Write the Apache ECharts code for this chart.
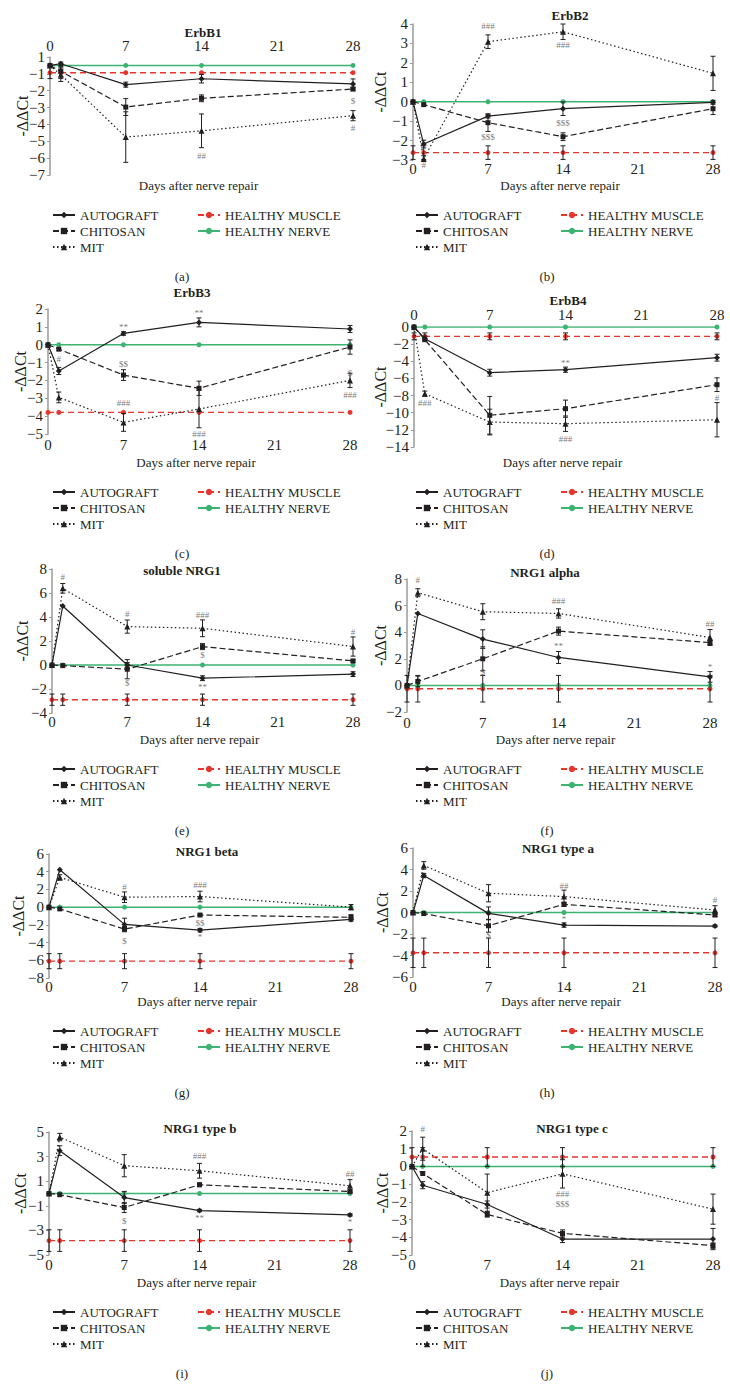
<!DOCTYPE html>
<html><head><meta charset="utf-8">
<script src="https://cdn.jsdelivr.net/npm/echarts@6/dist/echarts.min.js"></script>
<style>html,body{margin:0;padding:0;background:#fff}#c{width:730px;height:1394px}</style>
</head><body><div id="c"></div>
<script>
const DAYS = [0, 1, 7, 14, 28];
const XTICKS = ['0', '7', '14', '21', '28'];

// (a) ErbB1
const A_AUTO = [-0.5, -0.4, -1.64, -1.29, -1.6],  A_AUTO_E = [0, 0.1, 0.15, 0.25, 0.3];
const A_CHIT = [-0.5, -0.85, -2.97, -2.45, -1.9], A_CHIT_E = [0, 0, 0.5, 0.2, 0.1];
const A_MIT  = [-0.5, -1.05, -4.75, -4.38, -3.48], A_MIT_E = [0, 0.4, 1.5, 1.0, 0.3];
const A_MUSC = [-0.93, -0.93, -0.93, -0.93, -0.93], A_MUSC_E = [0.35, 0.35, 0, 0, 0];
const A_NERV = [-0.5, -0.5, -0.5, -0.5, -0.5];
const A_NOTE = [[14, -5.86, '##'], [28, -2.63, '$'], [28, -4.22, '#']];
const A_YT = ['−7', '−6', '−5', '−4', '−3', '−2', '−1', '1'];

// (b) ErbB2
const B_AUTO = [0, -2.18, -0.74, -0.36, -0.03], B_AUTO_E = [0, 0.2, 0.1, 0.35, 0.1];
const B_CHIT = [0, -0.15, -1.08, -1.8, -0.36], B_CHIT_E = [0, 0, 0.45, 0.2, 0.3];
const B_MIT  = [0, -2.93, 3.09, 3.6, 1.46],    B_MIT_E  = [0, 0.15, 0.35, 0.4, 0.88];
const B_MUSC = [-2.62, -2.62, -2.62, -2.62, -2.62], B_MUSC_E = [0.35, 0.35, 0.35, 0.35, 0.35];
const B_NERV = [0, 0, 0, 0, 0];
const B_NOTE = [[7, 3.9, '###'], [14, 2.92, '###'], [7, -1.84, '$$$'], [14, -1.07, '$$$'], [1, -3.26, '#']];
const B_YT = ['−3', '−2', '−1', '0', '1', '2', '3', '4'];

// (c) ErbB3
const C_AUTO = [0, -1.47, 0.63, 1.25, 0.88],  C_AUTO_E = [0, 0.2, 0.1, 0.25, 0.2];
const C_CHIT = [0, -0.25, -1.7, -2.44, -0.13], C_CHIT_E = [0, 0, 0.3, 0.4, 0.4];
const C_MIT  = [0, -2.95, -4.35, -3.6, -2.0],  C_MIT_E  = [0, 0.3, 0.5, 1.05, 0.4];
const C_MUSC = [-3.79, -3.79, -3.79, -3.79, -3.79], C_MUSC_E = [0, 0, 0, 0, 0];
const C_NERV = [0, 0, 0, 0, 0];
const C_NOTE = [[1, -0.8, '#'], [7, 0.97, '**'], [14, 1.76, '**'], [7, -1.08, '$$'], [7, -3.28, '###'], [14, -5.0, '###'], [28, -1.6, '$'], [28, -2.8, '###']];
const C_YT = ['−5', '−4', '−3', '−2', '−1', '0', '1', '2'];

// (d) ErbB4
const D_AUTO = [0, -1.36, -5.33, -4.98, -3.58],   D_AUTO_E = [0, 0.3, 0.4, 0.3, 0.4];
const D_CHIT = [0, -1.48, -10.3, -9.53, -6.73],   D_CHIT_E = [0, 0, 2.2, 1.0, 0.8];
const D_MIT  = [0, -7.78, -11.09, -11.28, -10.82], D_MIT_E = [0, 0.3, 1.5, 0.9, 2.0];
const D_MUSC = [-1.09, -1.09, -1.09, -1.09, -1.09], D_MUSC_E = [0.4, 0.4, 0.4, 0.4, 0.4];
const D_NERV = [0, 0, 0, 0, 0];
const D_NOTE = [[1, -8.83, '###'], [14, -4.16, '**'], [14, -13.1, '###'], [28, -8.3, '#']];
const D_YT = ['−14', '−12', '−10', '−8', '−6', '−4', '−2', '0'];

// (e) soluble NRG1
const E_AUTO = [0, 4.92, 0, -1.1, -0.76],      E_AUTO_E = [0, 0, 0.2, 0.2, 0.2];
const E_CHIT = [0, -0.05, -0.35, 1.53, 0.34],  E_CHIT_E = [0, 0, 0.8, 0.25, 0.1];
const E_MIT  = [0, 6.39, 3.2, 3.06, 1.54],     E_MIT_E  = [0, 0.4, 0.55, 0.7, 0.8];
const E_MUSC = [-2.89, -2.89, -2.89, -2.89, -2.89], E_MUSC_E = [0.47, 0.47, 0.47, 0.47, 0.47];
const E_NERV = [0, 0, 0, 0, 0];
const E_NOTE = [[1, 7.36, '#'], [7, 4.23, '#'], [14, 4.17, '###'], [28, 2.73, '#'], [7, -1.5, '$'], [14, 0.85, '$'], [14, -1.86, '**']];
const E_YT = ['−4', '−2', '0', '2', '4', '6', '8'];

// (f) NRG1 alpha
const F_AUTO = [0, 5.41, 3.48, 2.1, 0.64],  F_AUTO_E = [0, 0, 0.7, 0.45, 0.4];
const F_CHIT = [0, 0.3, 2.0, 4.08, 3.22],   F_CHIT_E = [0, 0.4, 0.9, 0.3, 0.15];
const F_MIT  = [0, 6.97, 5.54, 5.41, 3.6],  F_MIT_E  = [0, 0.3, 0.6, 0.35, 0.6];
const F_MUSC = [-0.25, -0.25, -0.25, -0.25, -0.25], F_MUSC_E = [1.0, 1.0, 1.0, 1.0, 1.0];
const F_NERV = [0, 0, 0, 0, 0];
const F_NOTE = [[1, 7.92, '#'], [14, 6.34, '###'], [14, 2.97, '**'], [28, 4.58, '##'], [28, 1.39, '*'], [7, 2.77, '*'], [7, 1.0, '$']];
const F_YT = ['−2', '0', '2', '4', '6', '8'];

// (g) NRG1 beta
const G_AUTO = [0, 4.22, -1.95, -2.6, -1.39], G_AUTO_E = [0, 0, 0.7, 0.2, 0.2];
const G_CHIT = [0, -0.2, -2.48, -0.89, -1.15], G_CHIT_E = [0, 0, 0.3, 0.1, 0.3];
const G_MIT  = [0, 3.36, 1.12, 1.2, 0],        G_MIT_E  = [0, 0.3, 0.6, 0.6, 0.3];
const G_MUSC = [-6.1, -6.1, -6.1, -6.1, -6.1], G_MUSC_E = [0.85, 0.85, 0.85, 0.85, 0.85];
const G_NERV = [0, 0, 0, 0, 0];
const G_NOTE = [[7, 2.25, '#'], [14, 2.52, '###'], [7, -3.8, '$'], [14, -1.77, '$$'], [14, -3.42, '*']];
const G_YT = ['−8', '−6', '−4', '−2', '0', '2', '4', '6'];

// (h) NRG1 type a
const H_AUTO = [0, 3.44, -0.08, -1.17, -1.26], H_AUTO_E = [0, 0.2, 0.6, 0.2, 0.1];
const H_CHIT = [0, -0.1, -1.23, 0.76, -0.23],  H_CHIT_E = [0, 0, 0.6, 0.2, 0.15];
const H_MIT  = [0, 4.38, 1.79, 1.48, 0.23],    H_MIT_E  = [0, 0.35, 0.8, 0.6, 0.4];
const H_MUSC = [-3.75, -3.75, -3.75, -3.75, -3.75], H_MUSC_E = [1.37, 1.37, 1.37, 1.37, 1.37];
const H_NERV = [0, 0, 0, 0, 0];
const H_NOTE = [[14, 2.5, '##'], [28, 1.17, '#'], [14, -0.64, '*'], [7, -2.1, '$']];
const H_YT = ['−6', '−4', '−2', '0', '2', '4', '6'];

// (i) NRG1 type b
const I_AUTO = [0, 3.48, -0.33, -1.39, -1.74], I_AUTO_E = [0, 0.4, 0.5, 0.1, 0.1];
const I_CHIT = [0, -0.1, -1.14, 0.71, 0.16],   I_CHIT_E = [0, 0, 0.4, 0.15, 0.1];
const I_MIT  = [0, 4.59, 2.26, 1.85, 0.63],    I_MIT_E  = [0, 0.3, 0.9, 0.6, 0.5];
const I_MUSC = [-3.83, -3.83, -3.83, -3.83, -3.83], I_MUSC_E = [0.88, 0.88, 0.88, 0.88, 0.88];
const I_NERV = [0, 0, 0, 0, 0];
const I_NOTE = [[14, 3.02, '###'], [28, 1.6, '##'], [7, -2.2, '$'], [14, -1.96, '**'], [28, -2.28, '*']];
const I_YT = ['−5', '−3', '−1', '1', '3', '5'];

// (j) NRG1 type c
const J_AUTO = [0, -1.06, -2.15, -4.1, -4.1],  J_AUTO_E = [0, 0.2, 0.2, 0.2, 0.6];
const J_CHIT = [0, -0.4, -2.71, -3.78, -4.47], J_CHIT_E = [0, 0, 0.15, 0.2, 0.15];
const J_MIT  = [0, 1.0, -1.48, -0.42, -2.41],  J_MIT_E  = [0, 0.65, 1.05, 0.8, 0.85];
const J_MUSC = [0.53, 0.53, 0.53, 0.53, 0.53], J_MUSC_E = [0.53, 0.53, 0.53, 0.53, 0.53];
const J_NERV = [0, 0, 0, 0, 0];
const J_NOTE = [[1, 2.13, '#'], [14, -1.56, '###'], [14, -2.13, '$$$']];
const J_YT = ['−5', '−4', '−3', '−2', '−1', '0', '1', '2'];

const PANELS = [
  {title: 'ErbB1', letter: '(a)', auto: A_AUTO, autoE: A_AUTO_E, chit: A_CHIT, chitE: A_CHIT_E, mit: A_MIT, mitE: A_MIT_E, musc: A_MUSC, muscE: A_MUSC_E, nerv: A_NERV, notes: A_NOTE, yt: A_YT, ymin: -7, ymax: 0, yint: 1},
  {title: 'ErbB2', letter: '(b)', auto: B_AUTO, autoE: B_AUTO_E, chit: B_CHIT, chitE: B_CHIT_E, mit: B_MIT, mitE: B_MIT_E, musc: B_MUSC, muscE: B_MUSC_E, nerv: B_NERV, notes: B_NOTE, yt: B_YT, ymin: -3, ymax: 4, yint: 1},
  {title: 'ErbB3', letter: '(c)', auto: C_AUTO, autoE: C_AUTO_E, chit: C_CHIT, chitE: C_CHIT_E, mit: C_MIT, mitE: C_MIT_E, musc: C_MUSC, muscE: C_MUSC_E, nerv: C_NERV, notes: C_NOTE, yt: C_YT, ymin: -5, ymax: 2, yint: 1},
  {title: 'ErbB4', letter: '(d)', auto: D_AUTO, autoE: D_AUTO_E, chit: D_CHIT, chitE: D_CHIT_E, mit: D_MIT, mitE: D_MIT_E, musc: D_MUSC, muscE: D_MUSC_E, nerv: D_NERV, notes: D_NOTE, yt: D_YT, ymin: -14, ymax: 0, yint: 2},
  {title: 'soluble NRG1', letter: '(e)', auto: E_AUTO, autoE: E_AUTO_E, chit: E_CHIT, chitE: E_CHIT_E, mit: E_MIT, mitE: E_MIT_E, musc: E_MUSC, muscE: E_MUSC_E, nerv: E_NERV, notes: E_NOTE, yt: E_YT, ymin: -4, ymax: 8, yint: 2},
  {title: 'NRG1 alpha', letter: '(f)', auto: F_AUTO, autoE: F_AUTO_E, chit: F_CHIT, chitE: F_CHIT_E, mit: F_MIT, mitE: F_MIT_E, musc: F_MUSC, muscE: F_MUSC_E, nerv: F_NERV, notes: F_NOTE, yt: F_YT, ymin: -2, ymax: 8, yint: 2},
  {title: 'NRG1 beta', letter: '(g)', auto: G_AUTO, autoE: G_AUTO_E, chit: G_CHIT, chitE: G_CHIT_E, mit: G_MIT, mitE: G_MIT_E, musc: G_MUSC, muscE: G_MUSC_E, nerv: G_NERV, notes: G_NOTE, yt: G_YT, ymin: -8, ymax: 6, yint: 2},
  {title: 'NRG1 type a', letter: '(h)', auto: H_AUTO, autoE: H_AUTO_E, chit: H_CHIT, chitE: H_CHIT_E, mit: H_MIT, mitE: H_MIT_E, musc: H_MUSC, muscE: H_MUSC_E, nerv: H_NERV, notes: H_NOTE, yt: H_YT, ymin: -6, ymax: 6, yint: 2},
  {title: 'NRG1 type b', letter: '(i)', auto: I_AUTO, autoE: I_AUTO_E, chit: I_CHIT, chitE: I_CHIT_E, mit: I_MIT, mitE: I_MIT_E, musc: I_MUSC, muscE: I_MUSC_E, nerv: I_NERV, notes: I_NOTE, yt: I_YT, ymin: -5, ymax: 5, yint: 2},
  {title: 'NRG1 type c', letter: '(j)', auto: J_AUTO, autoE: J_AUTO_E, chit: J_CHIT, chitE: J_CHIT_E, mit: J_MIT, mitE: J_MIT_E, musc: J_MUSC, muscE: J_MUSC_E, nerv: J_NERV, notes: J_NOTE, yt: J_YT, ymin: -5, ymax: 2, yint: 1}
];

// layout (pixels)
const LAYOUT = [
  {left: 50,  top: 57,   w: 303, h: 118, xpos: 'top',    xm: 4,   tx: 203, ty: 32,   ng: 20, row: 0, col: 0},
  {left: 413, top: 24,   w: 300, h: 136, xpos: 'bottom', xm: 1,   tx: 570, ty: 15,   ng: 25, row: 0, col: 1},
  {left: 48,  top: 309,  w: 302, h: 125, xpos: 'bottom', xm: 3,   tx: 192, ty: 292,  ng: 20, row: 1, col: 0},
  {left: 414, top: 327,  w: 303, h: 120, xpos: 'top',    xm: 5,   tx: 568, ty: 300,  ng: 26, row: 1, col: 1},
  {left: 52,  top: 569,  w: 301, h: 144, xpos: 'bottom', xm: 1.5, tx: 182, ty: 570,  ng: 22, row: 2, col: 0},
  {left: 407, top: 579,  w: 303, h: 133, xpos: 'bottom', xm: 3,   tx: 545, ty: 572,  ng: 19, row: 2, col: 1},
  {left: 49,  top: 854,  w: 302, h: 124, xpos: 'bottom', xm: 1,   tx: 207, ty: 851,  ng: 23, row: 3, col: 0},
  {left: 413, top: 848,  w: 302, h: 129, xpos: 'bottom', xm: 2,   tx: 558, ty: 848,  ng: 23, row: 3, col: 1},
  {left: 49,  top: 1132, w: 301, h: 123, xpos: 'bottom', xm: 2.5, tx: 200, ty: 1128, ng: 21, row: 4, col: 0},
  {left: 412, top: 1131, w: 301, h: 124, xpos: 'bottom', xm: 2.5, tx: 572, ty: 1128, ng: 22, row: 4, col: 1}
];
const DAYS_Y = [185, 462, 739, 1001, 1282];

const FONT = 'Liberation Serif, serif';
const INK = '#231f20';
const RED = '#e8352e';
const GREEN = '#3cb371';

const chart = echarts.init(document.getElementById('c'), null, {renderer: 'svg', width: 730, height: 1394});

const grids = [], xAxes = [], yAxes = [], series = [], legends = [], graphics = [];

function pts(arr) { return DAYS.map((d, i) => [d, arr[i]]); }
function errs(vals, es) { return DAYS.map((d, i) => [d, vals[i], es[i]]).filter(r => r[2] > 0); }

function errorSeries(i, data, z) {
  return {
    type: 'custom', xAxisIndex: i, yAxisIndex: i, silent: true, z: z, data: data,
    renderItem: function (params, api) {
      const x = api.value(0), y = api.value(1), e = api.value(2);
      const p1 = api.coord([x, y + e]), p2 = api.coord([x, y - e]);
      const c = 2.5;
      const st = {stroke: INK, lineWidth: 1};
      return {type: 'group', children: [
        {type: 'line', shape: {x1: p1[0], y1: p1[1], x2: p2[0], y2: p2[1]}, style: st},
        {type: 'line', shape: {x1: p1[0] - c, y1: p1[1], x2: p1[0] + c, y2: p1[1]}, style: st},
        {type: 'line', shape: {x1: p2[0] - c, y1: p2[1], x2: p2[0] + c, y2: p2[1]}, style: st}
      ]};
    }
  };
}

PANELS.forEach((p, i) => {
  const L = LAYOUT[i];
  grids.push({left: L.left, top: L.top, width: L.w, height: L.h, containLabel: false, outerBoundsMode: 'none'});
  xAxes.push({
    type: 'value', gridIndex: i, min: 0, max: 28, interval: 7, position: L.xpos,
    axisLine: {show: false, onZero: false}, axisTick: {show: false}, splitLine: {show: false},
    axisLabel: {fontFamily: FONT, fontSize: 15, color: INK, margin: L.xm,
      formatter: v => XTICKS[Math.round(v / 7)]}
  });
  yAxes.push({
    type: 'value', gridIndex: i, min: p.ymin, max: p.ymax, interval: p.yint,
    axisLine: {show: true, onZero: false, lineStyle: {color: '#9a9a9a', width: 1.5}},
    axisTick: {show: true, length: 3, lineStyle: {color: '#9a9a9a'}},
    splitLine: {show: false},
    axisLabel: {fontFamily: FONT, fontSize: 15, color: INK, margin: 5,
      formatter: v => p.yt[Math.round((v - p.ymin) / p.yint)]},
    name: '-ΔΔCt', nameLocation: 'middle', nameGap: L.ng, nameMoveOverlap: false,
    nameTextStyle: {fontFamily: FONT, fontSize: 16, color: INK}
  });

  series.push({name: 'HEALTHY MUSCLE', type: 'line', xAxisIndex: i, yAxisIndex: i, data: pts(p.musc),
    symbol: 'circle', symbolSize: 5, z: 2, lineStyle: {color: RED, width: 1.4, type: [6, 4]}, itemStyle: {color: RED}});
  series.push({name: 'HEALTHY NERVE', type: 'line', xAxisIndex: i, yAxisIndex: i, data: pts(p.nerv),
    symbol: 'circle', symbolSize: 5, z: 2, lineStyle: {color: GREEN, width: 1.5, type: 'solid'}, itemStyle: {color: GREEN}});
  series.push(errorSeries(i, errs(p.musc, p.muscE)
    .concat(errs(p.auto, p.autoE)).concat(errs(p.chit, p.chitE)).concat(errs(p.mit, p.mitE)), 3));
  series.push({name: 'AUTOGRAFT', type: 'line', xAxisIndex: i, yAxisIndex: i, data: pts(p.auto),
    symbol: 'diamond', symbolSize: 6, z: 5, lineStyle: {color: INK, width: 1.2, type: 'solid'}, itemStyle: {color: INK}});
  series.push({name: 'CHITOSAN', type: 'line', xAxisIndex: i, yAxisIndex: i, data: pts(p.chit),
    symbol: 'rect', symbolSize: 5, z: 5, lineStyle: {color: INK, width: 1.2, type: [6, 3]}, itemStyle: {color: INK}});
  series.push({name: 'MIT', type: 'line', xAxisIndex: i, yAxisIndex: i, data: pts(p.mit),
    symbol: 'triangle', symbolSize: 6, z: 5, lineStyle: {color: INK, width: 1.2, type: [1.5, 2.5]}, itemStyle: {color: INK}});
  series.push({type: 'scatter', xAxisIndex: i, yAxisIndex: i, data: p.notes, silent: true, clip: false, z: 6,
    symbolSize: 1, itemStyle: {color: 'transparent'},
    label: {show: true, position: 'inside', formatter: q => q.data[2], color: '#555', fontSize: 9, fontFamily: FONT}});

  // legends
  const ly = DAYS_Y[L.row] + 30 - 7;
  const lx = L.col === 0 ? 52 : 415;
  const common = {orient: 'vertical', top: ly, itemWidth: 22, itemHeight: 8, itemGap: 2, selectedMode: false,
    padding: 0, textStyle: {fontFamily: FONT, fontSize: 13, color: INK, lineHeight: 14}};
  legends.push(Object.assign({left: lx, data: ['AUTOGRAFT', 'CHITOSAN', 'MIT']}, common));
  legends.push(Object.assign({left: lx + 145, data: ['HEALTHY MUSCLE', 'HEALTHY NERVE']}, common));

  // texts
  graphics.push({type: 'text', x: L.tx, y: L.ty, style: {text: p.title, fontFamily: FONT, fontSize: 13, fontWeight: 'bold', fill: INK, align: 'center', verticalAlign: 'middle'}});
  graphics.push({type: 'text', x: L.left + L.w / 2 - 3, y: DAYS_Y[L.row], style: {text: 'Days after nerve repair', fontFamily: FONT, fontSize: 13, fill: INK, align: 'center', verticalAlign: 'middle'}});
  graphics.push({type: 'text', x: L.col === 0 ? 182 : 547, y: DAYS_Y[L.row] + 91, style: {text: p.letter, fontFamily: FONT, fontSize: 13, fill: INK, align: 'center', verticalAlign: 'middle'}});
});

chart.setOption({
  animation: false,
  backgroundColor: '#fff',
  grid: grids, xAxis: xAxes, yAxis: yAxes, series: series, legend: legends, graphic: graphics
});
</script></body></html>
